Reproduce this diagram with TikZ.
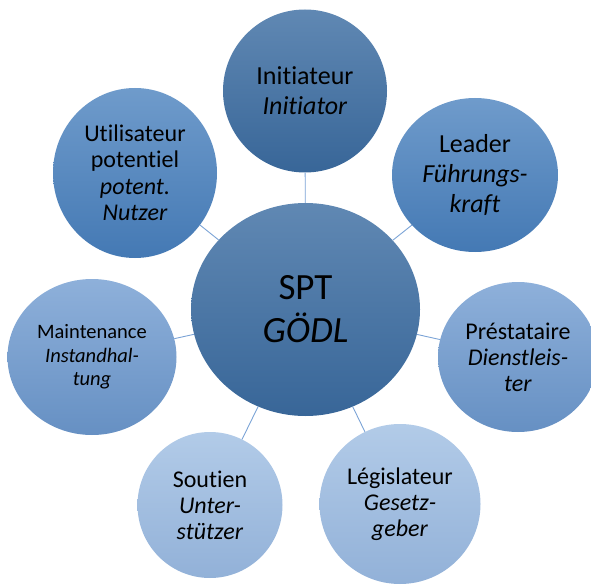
\documentclass[tikz,border=0pt]{standalone}
\usepackage{fontspec}
\setmainfont{Carlito}[Ligatures=NoCommon]
\usepackage{tikz}
\usetikzlibrary{shapes.geometric}
\usepackage{xcolor}
\definecolor{darkTop}{HTML}{6088B3}
\definecolor{darkBot}{HTML}{386698}
\definecolor{midTop}{HTML}{6F9BCB}
\definecolor{midBot}{HTML}{4479B4}
\definecolor{lightTop}{HTML}{8EB0DA}
\definecolor{lightBot}{HTML}{6690C3}
\definecolor{paleTop}{HTML}{B2CBE8}
\definecolor{paleBot}{HTML}{92B1D8}
\definecolor{spokeBlue}{HTML}{7BA3D6}
\tikzstyle{bubble} = [ellipse, inner sep=0pt, align=center, text=black]
\tikzstyle{darkbubble} = [bubble, top color=darkTop, bottom color=darkBot]
\tikzstyle{midbubble} = [bubble, top color=midTop, bottom color=midBot]
\tikzstyle{lightbubble} = [bubble, top color=lightTop, bottom color=lightBot]
\tikzstyle{palebubble} = [bubble, top color=paleTop, bottom color=paleBot]
\tikzstyle{spoke} = [draw=spokeBlue, line width=0.9pt]

\begin{document}
\begin{tikzpicture}[x=1pt, y=-1pt]
\useasboundingbox (0,0) rectangle (591,585);

% hub
\node[darkbubble, minimum width=229pt, minimum height=213pt, font=\fontsize{37}{43}\selectfont] (spt) at (305.5,309.5) {SPT\\\textit{GÖDL}};

% roles round the hub
\node[darkbubble, minimum width=164pt, minimum height=163pt, font=\fontsize{26}{30}\selectfont] (initiateur) at (305,91) {Initiateur\\\textit{Initiator}};
\node[midbubble, minimum width=166pt, minimum height=154pt, font=\fontsize{26}{30}\selectfont] (leader) at (475,175) {Leader\\\textit{Führungs-}\\\textit{kraft}};
\node[lightbubble, minimum width=160pt, minimum height=150pt, font=\fontsize{24}{26}\selectfont] (prestataire) at (518,357) {Préstataire\\\textit{Dienstleis-}\\\textit{ter}};
\node[palebubble, minimum width=161pt, minimum height=160pt, font=\fontsize{24}{26}\selectfont] (legislateur) at (400,504) {Législateur\\\textit{Gesetz-}\\\textit{geber}};
\node[palebubble, minimum width=145pt, minimum height=146pt, font=\fontsize{24}{26}\selectfont] (soutien) at (210,505) {Soutien\\\textit{Unter-}\\\textit{stützer}};
\node[lightbubble, minimum width=169pt, minimum height=156pt, font=\fontsize{20.5}{23.5}\selectfont] (maintenance) at (92,357) {Maintenance\\\textit{Instandhal-}\\\textit{tung}};
\node[midbubble, minimum width=164pt, minimum height=170pt, font=\fontsize{24}{26.5}\selectfont] (utilisateur) at (135,173) {Utilisateur\\potentiel\\\textit{potent.}\\\textit{Nutzer}};

% spokes
\foreach \n in {initiateur,leader,prestataire,legislateur,soutien,maintenance,utilisateur}
  \draw[spoke] (spt) -- (\n);
\end{tikzpicture}
\end{document}
